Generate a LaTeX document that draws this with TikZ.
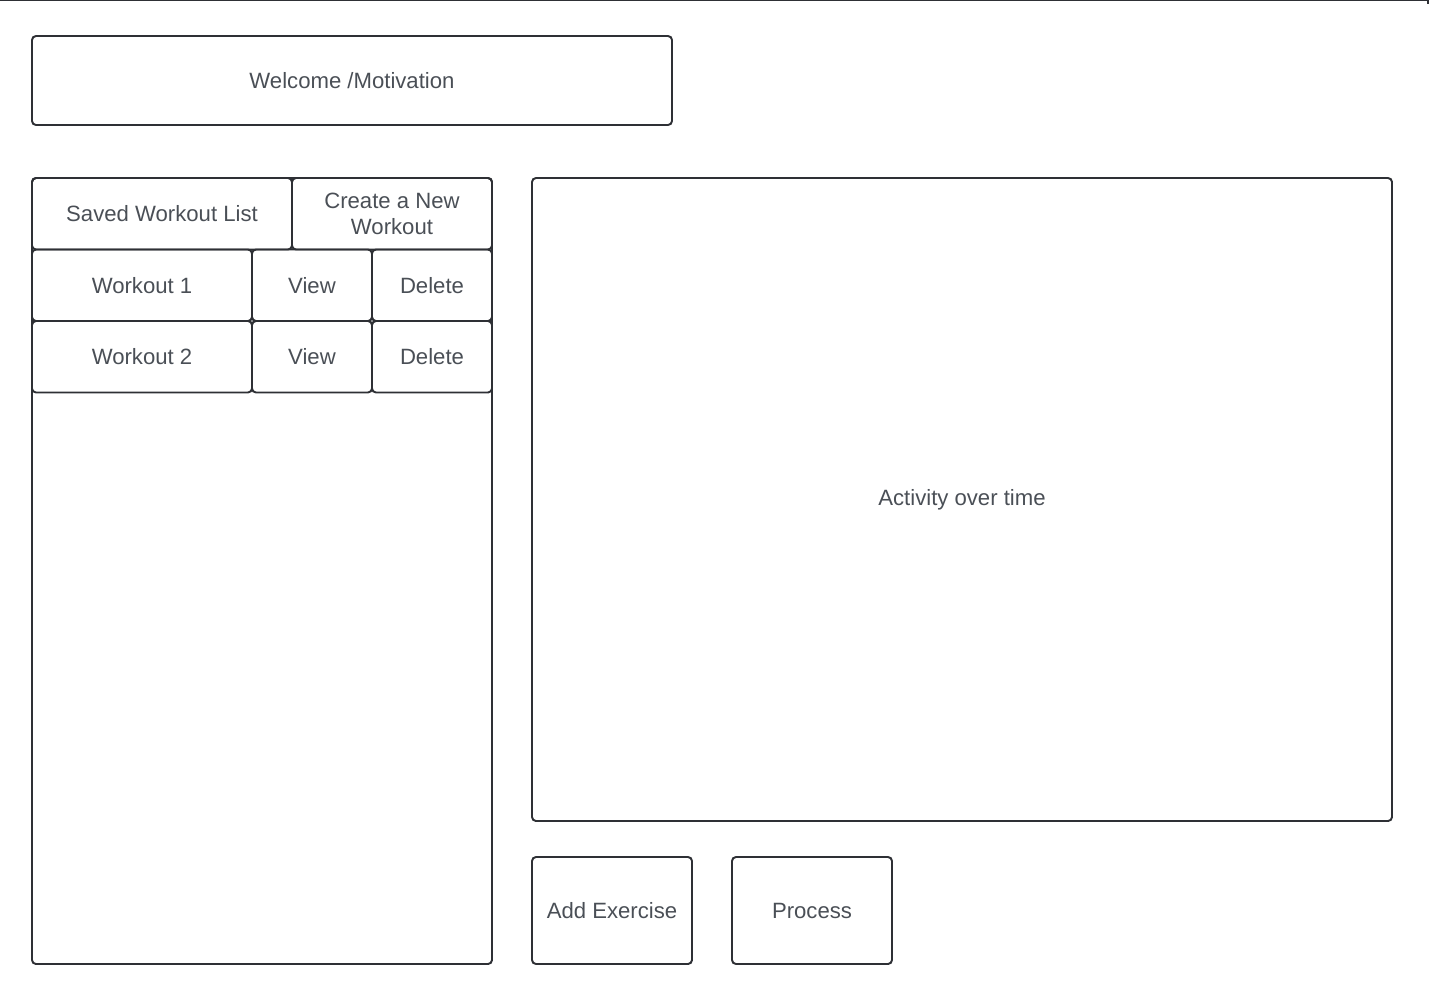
\documentclass[tikz,border=0pt]{standalone}
\usepackage{fontspec}
\setmainfont{Liberation Sans}
\usetikzlibrary{positioning}

\definecolor{edge}{HTML}{2E3035}
\definecolor{label}{HTML}{4A4F56}

\begin{document}
\begin{tikzpicture}[x = 0.02cm, y = -0.02cm]

	% Definition
	
	\def\U{0.02cm}
	
	\tikzset{
		panel/.style = {draw = edge, line width = 1.1pt, rounded corners = 0.08cm, outer sep = 0pt, inner sep = 0pt,
			text = label, align = center, font = \fontsize{12.6}{14.8}\selectfont},
		cell/.style = {panel, minimum height = 71.5 * \U}
	}

	% The frame
	
	\useasboundingbox (0, 0) rectangle (1429, 988);
	\draw [edge, line width = 1.1pt] (0, 0) -- (1428, 0) -- (1428, 4);
	
	% Header
	
	\node [panel, minimum width = 640 * \U, minimum height = 89 * \U] (welcome) at (352, 80.5) {Welcome /Motivation};
	
	% Workout list
	
	\node [panel, minimum width = 460 * \U, minimum height = 786 * \U] (list) at (262, 571) {};
	
	\node [cell, minimum width = 260 * \U, below right = 0pt and 0pt of list.north west] (saved) {Saved Workout List};
	\node [cell, minimum width = 200 * \U, right = 0pt of saved] (create) {Create a New\\Workout};
	
	\node [cell, minimum width = 220 * \U, below right = 0pt and 0pt of saved.south west] (workout1) {Workout 1};
	\node [cell, minimum width = 120 * \U, right = 0pt of workout1] (view1) {View};
	\node [cell, minimum width = 120 * \U, right = 0pt of view1] (delete1) {Delete};
	
	\node [cell, minimum width = 220 * \U, below = 0pt of workout1] (workout2) {Workout 2};
	\node [cell, minimum width = 120 * \U, right = 0pt of workout2] (view2) {View};
	\node [cell, minimum width = 120 * \U, right = 0pt of view2] (delete2) {Delete};
	
	% Chart and buttons
	
	\node [panel, minimum width = 860 * \U, minimum height = 643 * \U] (activity) at (962, 499.5) {Activity over time};
	
	\node [panel, minimum width = 160 * \U, minimum height = 107 * \U, below right = 0.72cm and 0pt of activity.south west] (addex) {Add Exercise};
	\node [panel, minimum width = 160 * \U, minimum height = 107 * \U, right = 0.8cm of addex] (process) {Process};

\end{tikzpicture}
\end{document}
